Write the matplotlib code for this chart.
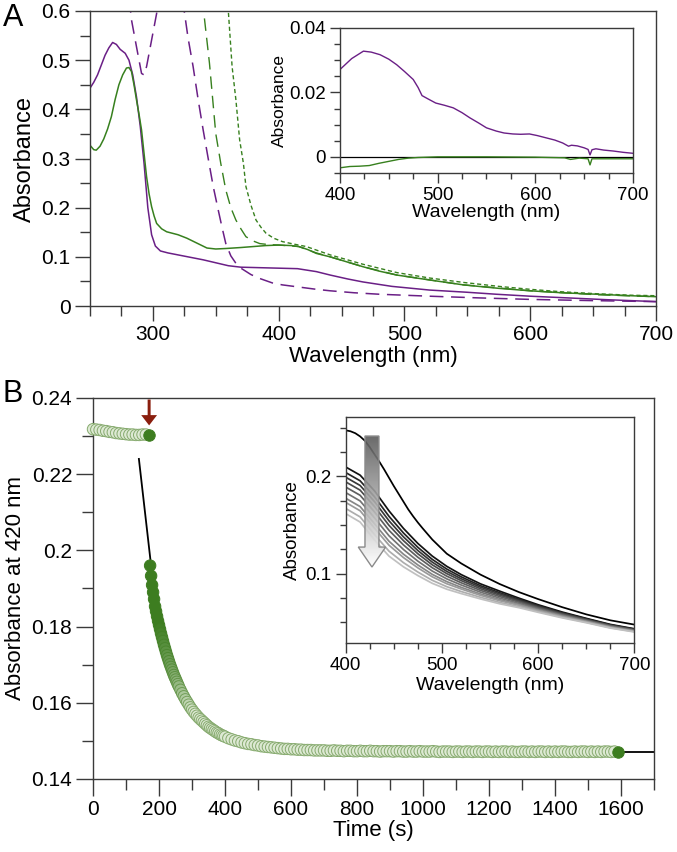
import matplotlib
matplotlib.use("Agg")
import matplotlib.pyplot as plt
import numpy as np
from matplotlib.patches import FancyArrow
from matplotlib.colors import LinearSegmentedColormap, to_rgb
from matplotlib.ticker import MultipleLocator, FormatStrFormatter

plt.rcParams['font.family'] = ['Liberation Sans', 'DejaVu Sans']

# ---------------- panel A: spectra ----------------
purple_wl = [250, 253, 256, 259, 262, 265, 268, 271, 274, 278, 281, 284, 287, 290, 293, 296,
             299, 302, 306, 312, 320, 330, 340, 350, 360, 370, 385, 400, 415, 430, 441, 455,
             467, 490, 520, 550, 573, 600, 626, 660, 700]
purple_abs = [0.443, 0.455, 0.470, 0.490, 0.510, 0.525, 0.536, 0.532, 0.522, 0.514, 0.500,
              0.470, 0.425, 0.365, 0.290, 0.200, 0.145, 0.122, 0.112, 0.108, 0.104, 0.099,
              0.094, 0.088, 0.082, 0.079, 0.078, 0.077, 0.076, 0.070, 0.063, 0.055, 0.049,
              0.040, 0.0325, 0.028, 0.024, 0.020, 0.017, 0.013, 0.009]

green_wl = [250, 253, 255, 258, 261, 264, 267, 270, 273, 276, 279, 281, 283, 285, 287, 289,
            291, 293, 295, 297, 299, 301, 303, 307, 311, 320, 327, 335, 343, 350, 358, 370,
            380, 390, 400, 410, 416, 423, 430, 441, 454, 467, 480, 494, 520, 547, 575, 600,
            625, 653, 680, 700]
green_abs = [0.327, 0.318, 0.317, 0.325, 0.340, 0.360, 0.385, 0.420, 0.450, 0.470, 0.484,
             0.485, 0.477, 0.450, 0.419, 0.390, 0.358, 0.310, 0.263, 0.228, 0.202, 0.183,
             0.168, 0.157, 0.151, 0.145, 0.138, 0.128, 0.118, 0.116, 0.117, 0.119, 0.121,
             0.123, 0.124, 0.123, 0.121, 0.115, 0.107, 0.100, 0.090, 0.080, 0.071, 0.063,
             0.053, 0.043, 0.036, 0.031, 0.027, 0.024, 0.021, 0.019]

purple_dash_wl = [270, 283, 287, 291, 293, 295, 299, 303, 306, 322, 325, 328, 332, 336, 340,
                  344, 348, 352, 355, 358, 362, 366, 370, 378, 385, 395, 403, 415, 430, 441,
                  460, 480, 520, 560, 600, 650, 700]
purple_dash_abs = [0.90, 0.582, 0.527, 0.473, 0.470, 0.487, 0.541, 0.595, 0.90, 0.90, 0.599,
                   0.545, 0.487, 0.420, 0.358, 0.300, 0.243, 0.195, 0.160, 0.127, 0.102,
                   0.087, 0.077, 0.064, 0.056, 0.047, 0.043, 0.039, 0.034, 0.031, 0.027,
                   0.024, 0.020, 0.0165, 0.0135, 0.011, 0.009]

green_dash_wl = [335, 341, 345, 350, 354, 358, 362, 366, 370, 374, 380, 385, 392, 400, 416,
                 430, 441, 467, 494, 547, 600, 653, 700]
green_dash_abs = [0.90, 0.585, 0.494, 0.351, 0.290, 0.236, 0.200, 0.175, 0.157, 0.141, 0.132,
                  0.127, 0.125, 0.124, 0.121, 0.108, 0.100, 0.080, 0.063, 0.043, 0.031,
                  0.023, 0.019]

green_dot_wl = [355, 360, 363, 366, 369, 372, 374, 378, 382, 386, 390, 396, 403, 412, 422,
                432, 441, 467, 494, 520, 547, 575, 600, 625, 653, 680, 700]
green_dot_abs = [0.90, 0.600, 0.487, 0.420, 0.338, 0.290, 0.243, 0.205, 0.175, 0.160, 0.148,
                 0.138, 0.131, 0.126, 0.121, 0.112, 0.104, 0.085, 0.068, 0.057, 0.048,
                 0.040, 0.034, 0.029, 0.025, 0.022, 0.021]

# inset A: difference spectra
diff_purple_wl = [400, 412, 424, 432, 441, 450, 458, 466, 475, 480, 484, 490, 498, 507, 516,
                  525, 533, 542, 550, 560, 568, 577, 585, 594, 602, 611, 620, 628, 634, 637,
                  643, 650, 654, 656, 658, 662, 670, 680, 690, 700]
diff_purple_abs = [0.0271, 0.0305, 0.0328, 0.0325, 0.0317, 0.0303, 0.0286, 0.0265, 0.0240,
                   0.0215, 0.0190, 0.0180, 0.0167, 0.0160, 0.0152, 0.0137, 0.0121, 0.0105,
                   0.0090, 0.0080, 0.0074, 0.0071, 0.0070, 0.0071, 0.0066, 0.0059, 0.0052,
                   0.0043, 0.0033, 0.0036, 0.0034, 0.0028, 0.0023, 0.0006, 0.0022, 0.0025,
                   0.0021, 0.0018, 0.0014, 0.0011]
diff_green_wl = [400, 410, 420, 430, 440, 450, 460, 470, 480, 500, 550, 600, 630, 636, 645,
                 654, 656, 658, 670, 700]
diff_green_abs = [-0.0034, -0.0030, -0.0029, -0.0027, -0.0020, -0.0014, -0.0008, -0.0004,
                  -0.0002, 0.0000, 0.0000, -0.0001, -0.0003, -0.0008, -0.0004, -0.0006,
                  -0.0025, -0.0006, -0.0006, -0.0006]

# ---------------- panel B: kinetics at 420 nm ----------------
pre_time = np.arange(0, 170, 10)
pre_abs = [0.2318, 0.2317, 0.2316, 0.2314, 0.2313, 0.2311, 0.2310, 0.2308, 0.2307, 0.2306,
           0.2305, 0.2304, 0.2304, 0.2303, 0.2303, 0.2304, 0.2304]
mix_time = [170]
mix_abs = [0.2304]

early_time = np.arange(173, 260, 3)
early_abs = [0.1960, 0.1933, 0.1909, 0.1890, 0.1872, 0.1853, 0.1840, 0.1827, 0.1815, 0.1804,
             0.1793, 0.1782, 0.1772, 0.1762, 0.1752, 0.1743, 0.1734, 0.1725, 0.1717, 0.1709,
             0.1701, 0.1694, 0.1687, 0.1680, 0.1673, 0.1667, 0.1661, 0.1655, 0.1649]
fast_time = np.arange(260, 405, 5)
fast_abs = [0.1643, 0.1634, 0.1625, 0.1617, 0.1609, 0.1602, 0.1595, 0.1588, 0.1582, 0.1576,
            0.1571, 0.1566, 0.1561, 0.1557, 0.1553, 0.1549, 0.1545, 0.1541, 0.1537, 0.1534,
            0.1531, 0.1528, 0.1525, 0.1522, 0.1520, 0.1517, 0.1515, 0.1513, 0.1511]
slow_time = np.arange(410, 1590, 10)
slow_abs = [0.1507, 0.1504, 0.1501, 0.1499, 0.1496, 0.1494, 0.1492, 0.1491, 0.1489, 0.1488,
            0.1486, 0.1485, 0.1484, 0.1483, 0.1482, 0.1481, 0.1480, 0.1479, 0.1479, 0.1478,
            0.1478, 0.1477, 0.1477, 0.1476, 0.1476, 0.1476, 0.1475, 0.1475, 0.1475, 0.1475,
            0.1474, 0.1474, 0.1475, 0.1474, 0.1474, 0.1473, 0.1474, 0.1474, 0.1473, 0.1473,
            0.1474, 0.1473, 0.1473, 0.1474, 0.1473, 0.1473, 0.1472, 0.1473, 0.1473, 0.1473,
            0.1472, 0.1473, 0.1473, 0.1472, 0.1472, 0.1473, 0.1472, 0.1472, 0.1473, 0.1472,
            0.1472, 0.1472, 0.1473, 0.1472, 0.1471, 0.1472, 0.1472, 0.1472, 0.1471, 0.1472,
            0.1472, 0.1471, 0.1472, 0.1472, 0.1471, 0.1472, 0.1472, 0.1471, 0.1472, 0.1472,
            0.1471, 0.1472, 0.1471, 0.1472, 0.1472, 0.1471, 0.1472, 0.1471, 0.1471, 0.1472,
            0.1472, 0.1471, 0.1472, 0.1471, 0.1472, 0.1472, 0.1471, 0.1472, 0.1471, 0.1472,
            0.1471, 0.1472, 0.1472, 0.1471, 0.1471, 0.1472, 0.1471, 0.1472, 0.1472, 0.1471,
            0.1472, 0.1471, 0.1472, 0.1471, 0.1472, 0.1472, 0.1471, 0.1472]
end_time = [1590]
end_abs = [0.1472]

fit_early_t = [139, 174]
fit_early_a = [0.2240, 0.1975]
fit_late_t = [1590, 1700]
fit_late_a = [0.1472, 0.1472]

# inset B: spectra during decay
start_wl = [400, 405, 410, 415, 420, 425, 430, 435, 440, 445, 450, 455, 460, 465, 470, 475,
            480, 490, 505, 520, 540, 560, 580, 600, 625, 650, 675, 700]
spec_start = [0.2473, 0.2463, 0.2443, 0.2410, 0.2365, 0.2300, 0.2225, 0.2150, 0.2070, 0.1985,
              0.1900, 0.1820, 0.1740, 0.1660, 0.1590, 0.1525, 0.1465, 0.1350, 0.1205, 0.1105,
              0.0990, 0.0893, 0.0810, 0.0738, 0.0655, 0.0581, 0.0520, 0.0476]
spec_wl = [400, 415, 430, 445, 460, 475, 490, 505, 520, 540, 560, 580, 600, 625, 650, 675, 700]
spec_1 = [0.2096, 0.2012, 0.1850, 0.1645, 0.1465, 0.1310, 0.1180, 0.1075, 0.0990, 0.0895,
          0.0820, 0.0748, 0.0680, 0.0605, 0.0540, 0.0478, 0.0433]
spec_2 = [0.2039, 0.1954, 0.1789, 0.1589, 0.1418, 0.1270, 0.1146, 0.1047, 0.0967, 0.0876,
          0.0804, 0.0736, 0.0671, 0.0598, 0.0535, 0.0473, 0.0429]
spec_3 = [0.1991, 0.1906, 0.1739, 0.1543, 0.1378, 0.1237, 0.1118, 0.1023, 0.0947, 0.0861,
          0.0791, 0.0726, 0.0663, 0.0592, 0.0530, 0.0470, 0.0426]
spec_4 = [0.1943, 0.1858, 0.1688, 0.1496, 0.1339, 0.1204, 0.1090, 0.1000, 0.0928, 0.0845,
          0.0778, 0.0717, 0.0655, 0.0586, 0.0526, 0.0466, 0.0422]
spec_5 = [0.1890, 0.1805, 0.1633, 0.1445, 0.1295, 0.1168, 0.1060, 0.0974, 0.0906, 0.0828,
          0.0764, 0.0706, 0.0646, 0.0579, 0.0521, 0.0462, 0.0419]
spec_6 = [0.1833, 0.1747, 0.1572, 0.1389, 0.1248, 0.1128, 0.1026, 0.0946, 0.0883, 0.0810,
          0.0748, 0.0694, 0.0637, 0.0572, 0.0515, 0.0457, 0.0415]
spec_7 = [0.1775, 0.1689, 0.1512, 0.1333, 0.1200, 0.1089, 0.0992, 0.0918, 0.0859, 0.0791,
          0.0733, 0.0682, 0.0628, 0.0565, 0.0510, 0.0453, 0.0411]
spec_8 = [0.1732, 0.1646, 0.1466, 0.1292, 0.1165, 0.1059, 0.0967, 0.0896, 0.0842, 0.0777,
          0.0721, 0.0674, 0.0621, 0.0559, 0.0506, 0.0449, 0.0408]
spec_9 = [0.1670, 0.1583, 0.1401, 0.1231, 0.1113, 0.1016, 0.0931, 0.0866, 0.0816, 0.0757,
          0.0704, 0.0661, 0.0611, 0.0552, 0.0500, 0.0444, 0.0404]
spec_10 = [0.1617, 0.1530, 0.1345, 0.1180, 0.1070, 0.0980, 0.0900, 0.0840, 0.0795, 0.0740,
           0.0690, 0.0650, 0.0602, 0.0545, 0.0495, 0.0440, 0.0400]
decay_specs = [spec_1, spec_2, spec_3, spec_4, spec_5, spec_6, spec_7, spec_8, spec_9, spec_10]

PURPLE = '#6a1f86'
GREEN = '#37801e'
AXC = '#3a3a3a'


def style_axes(ax, major_len, minor_len, size):
    for s in ax.spines.values():
        s.set_color(AXC)
        s.set_linewidth(1.0)
    ax.tick_params(which='major', direction='out', length=major_len, width=1.0,
                   color=AXC, labelsize=size, pad=3)
    ax.tick_params(which='minor', direction='out', length=minor_len, width=1.0, color=AXC)
    ax.yaxis.set_major_formatter(FormatStrFormatter('%g'))


fig = plt.figure(figsize=(6.77, 8.52), dpi=100)

# ---- A main
axA = fig.add_axes([0.1329, 0.6408, 0.836, 0.3463])
axA.plot(purple_wl, purple_abs, color=PURPLE, lw=1.1)
axA.plot(green_wl, green_abs, color=GREEN, lw=1.1)
axA.plot(purple_dash_wl, purple_dash_abs, color=PURPLE, lw=1.1, dashes=(9, 5))
axA.plot(green_dash_wl, green_dash_abs, color=GREEN, lw=1.0, dashes=(9, 5))
axA.plot(green_dot_wl, green_dot_abs, color=GREEN, lw=1.0, dashes=(3, 2))
axA.set_xlim(250, 700)
axA.set_ylim(0, 0.6)
axA.xaxis.set_major_locator(MultipleLocator(100))
axA.xaxis.set_minor_locator(MultipleLocator(25))
axA.yaxis.set_major_locator(MultipleLocator(0.1))
axA.yaxis.set_minor_locator(MultipleLocator(0.05))
style_axes(axA, 11, 7.5, 15)
axA.set_xlabel('Wavelength (nm)', fontsize=16, labelpad=1)
axA.set_ylabel('Absorbance', fontsize=17, labelpad=4)

# ---- A inset
axIA = fig.add_axes([0.5022, 0.797, 0.4328, 0.1702])
axIA.axhline(0, color='black', lw=0.9)
axIA.plot(diff_purple_wl, diff_purple_abs, color=PURPLE, lw=1.0)
axIA.plot(diff_green_wl, diff_green_abs, color=GREEN, lw=1.0)
axIA.set_xlim(400, 700)
axIA.set_ylim(-0.005, 0.04)
axIA.xaxis.set_major_locator(MultipleLocator(100))
axIA.xaxis.set_minor_locator(MultipleLocator(25))
axIA.yaxis.set_major_locator(MultipleLocator(0.02))
axIA.yaxis.set_minor_locator(MultipleLocator(0.005))
style_axes(axIA, 7, 4.5, 13.5)
axIA.set_xlabel('Wavelength (nm)', fontsize=14, labelpad=0)
axIA.set_ylabel('Absorbance', fontsize=12.5, labelpad=2)

# ---- B main
axB = fig.add_axes([0.1374, 0.0857, 0.8287, 0.4472])
pale_face = np.array(to_rgb('#dde9d3'))
pale_edge = np.array(to_rgb('#86aa6e'))
dark = np.array(to_rgb('#3d7d20'))


def dot_colors(times):
    w = np.clip((np.asarray(times, dtype=float) - 200) / 110.0, 0, 1)[:, None]
    face = dark * (1 - w) + pale_face * w
    edge = dark * (1 - w) + pale_edge * w
    return face, edge


DOT = 68
axB.plot(fit_early_t, fit_early_a, color='black', lw=1.3, zorder=2)
axB.plot(fit_late_t, fit_late_a, color='black', lw=1.3, zorder=2)
axB.scatter(pre_time, pre_abs, s=DOT, facecolors=[pale_face] * len(pre_time),
            edgecolors=[pale_edge] * len(pre_time), linewidths=0.7, clip_on=False, zorder=3)
axB.scatter(mix_time, mix_abs, s=DOT, color=dark, edgecolors=dark, linewidths=0.7,
            clip_on=False, zorder=4)
all_t = np.concatenate([early_time, fast_time, slow_time])
all_a = np.concatenate([early_abs, fast_abs, slow_abs])
fc, ec = dot_colors(all_t)
axB.scatter(all_t, all_a, s=DOT, facecolors=fc, edgecolors=ec, linewidths=0.7,
            clip_on=False, zorder=3)
axB.scatter(end_time, end_abs, s=DOT, color=dark, edgecolors=dark, linewidths=0.7,
            clip_on=False, zorder=4)
axB.add_patch(FancyArrow(mix_time[0], 0.2396, 0, -0.0068, width=9, head_width=48,
                         head_length=0.0027, length_includes_head=True,
                         color='#8a1e0e', lw=0, zorder=5))
axB.set_xlim(0, 1700)
axB.set_ylim(0.14, 0.24)
axB.xaxis.set_major_locator(MultipleLocator(200))
axB.xaxis.set_minor_locator(MultipleLocator(100))
axB.yaxis.set_major_locator(MultipleLocator(0.02))
axB.yaxis.set_minor_locator(MultipleLocator(0.01))
style_axes(axB, 12, 8, 15)
axB.set_xlabel('Time (s)', fontsize=16, labelpad=1)
axB.set_ylabel('Absorbance at 420 nm', fontsize=16, labelpad=4)

# ---- B inset
axIB = fig.add_axes([0.5106, 0.2453, 0.4266, 0.2653])
greys = ['#121212', '#252525', '#383838', '#4b4b4b', '#5f5f5f', '#737373', '#878787',
         '#9a9a9a', '#adadad', '#c0c0c0']
for spec, col in zip(decay_specs, greys):
    axIB.plot(spec_wl, spec, color=col, lw=1.25)
axIB.plot(start_wl, spec_start, color='black', lw=1.25)
arrow = FancyArrow(427.3, 0.2414, 0, -0.1346, width=14.5, head_width=28.4,
                   head_length=0.0205, length_includes_head=True,
                   facecolor='none', edgecolor='#8a8a8a', lw=1.0, zorder=6)
axIB.add_patch(arrow)
grad = np.linspace(0, 1, 256)[:, None]
cmap = LinearSegmentedColormap.from_list('g', ['#5a5a5a', '#ffffff'])
img = axIB.imshow(grad, cmap=cmap, extent=(413, 442, 0.1068, 0.2414), aspect='auto',
                  origin='upper', alpha=0.9, zorder=5)
img.set_clip_path(arrow)
axIB.set_xlim(400, 700)
axIB.set_ylim(0.0287, 0.261)
axIB.xaxis.set_major_locator(MultipleLocator(100))
axIB.xaxis.set_minor_locator(MultipleLocator(25))
axIB.yaxis.set_major_locator(MultipleLocator(0.1))
axIB.yaxis.set_minor_locator(MultipleLocator(0.025))
style_axes(axIB, 7, 4.5, 13.5)
axIB.set_xlabel('Wavelength (nm)', fontsize=14, labelpad=2)
axIB.set_ylabel('Absorbance', fontsize=13.5, labelpad=3)

fig.text(0.004, 0.979, 'A', fontsize=22, va='center', ha='left')
fig.text(0.004, 0.537, 'B', fontsize=22, va='center', ha='left')

fig.savefig('out.png', dpi=100)
